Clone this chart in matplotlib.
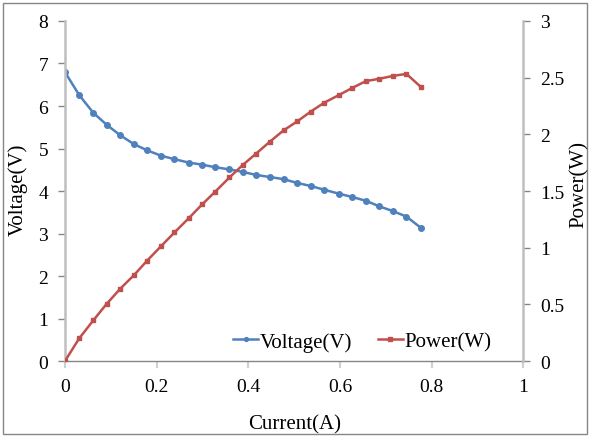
import matplotlib.pyplot as plt
from matplotlib.patches import Rectangle

# data
current = [0.0, 0.031, 0.062, 0.091, 0.121, 0.151, 0.179, 0.210, 0.239, 0.270,
           0.300, 0.328, 0.359, 0.388, 0.417, 0.447, 0.477, 0.507, 0.536, 0.566,
           0.597, 0.627, 0.657, 0.686, 0.715, 0.745, 0.776]
voltage = [6.80, 6.26, 5.84, 5.56, 5.31, 5.10, 4.96, 4.83, 4.75, 4.67,
           4.62, 4.56, 4.51, 4.45, 4.38, 4.33, 4.28, 4.19, 4.12, 4.03,
           3.94, 3.86, 3.77, 3.64, 3.53, 3.40, 3.14]
power = [0.0, 0.20, 0.36, 0.505, 0.64, 0.76, 0.885, 1.015, 1.135, 1.26,
         1.385, 1.495, 1.62, 1.73, 1.83, 1.935, 2.035, 2.115, 2.20, 2.28,
         2.345, 2.41, 2.47, 2.49, 2.515, 2.533, 2.42]

x_ticks = [0, 0.2, 0.4, 0.6, 0.8, 1]
x_labels = ["0", "0.2", "0.4", "0.6", "0.8", "1"]
v_ticks = [0, 1, 2, 3, 4, 5, 6, 7, 8]
p_ticks = [0, 0.5, 1, 1.5, 2, 2.5, 3]
p_labels = ["0", "0.5", "1", "1.5", "2", "2.5", "3"]

blue = "#4F81BD"
red = "#C0504D"
plt.rcParams['font.family'] = ['Liberation Serif', 'DejaVu Serif']

fig = plt.figure(figsize=(5.9, 4.39), dpi=100)
ax = fig.add_axes([0.110, 0.175, 0.777, 0.775])
ax2 = ax.twinx()

l1, = ax.plot(current, voltage, color=blue, lw=1.8, marker='o', ms=4,
              label="Voltage(V)")
l2, = ax2.plot(current, power, color=red, lw=1.8, marker='s', ms=3.5,
               label="Power(W)")

ax.set_xlim(0, 1)
ax.set_ylim(0, 8)
ax2.set_ylim(0, 3)
ax.set_xticks(x_ticks)
ax.set_xticklabels(x_labels)
ax.set_yticks(v_ticks)
ax2.set_yticks(p_ticks)
ax2.set_yticklabels(p_labels)

for a in (ax, ax2):
    a.spines['top'].set_visible(False)
    a.spines['left'].set_color('#BFBFBF')
    a.spines['right'].set_color('#BFBFBF')
    a.spines['left'].set_linewidth(1.8)
    a.spines['right'].set_linewidth(1.8)
    a.spines['bottom'].set_color('#868686')
    a.spines['bottom'].set_linewidth(1.0)
    a.tick_params(labelsize=14, color='#868686', length=5, width=1,
                  direction='out', pad=7)
ax2.spines['left'].set_visible(False)
ax2.spines['bottom'].set_visible(False)
ax.spines['right'].set_visible(False)
ax.tick_params(axis='x', length=5, color='#D0D0D0', width=1.5)

fig.text(0.031, 0.567, "Voltage(V)", rotation=90, ha='center', va='center', fontsize=15)
fig.text(0.981, 0.58, "Power(W)", rotation=90, ha='center', va='center', fontsize=15)
fig.text(0.5, 0.032, "Current(A)", ha='center', va='center', fontsize=15)

fig.legend(handles=[l1, l2], loc='center right', bbox_to_anchor=(0.865, 0.219),
           ncol=2, frameon=False, fontsize=15, handlelength=1.2,
           handletextpad=0.1, columnspacing=1.2, markerscale=0.7)

fig.patches.append(Rectangle((0.005, 0.009), 0.99, 0.981, transform=fig.transFigure,
                             fill=False, edgecolor='#868686', lw=1.0))

fig.savefig("out.png", dpi=100)
